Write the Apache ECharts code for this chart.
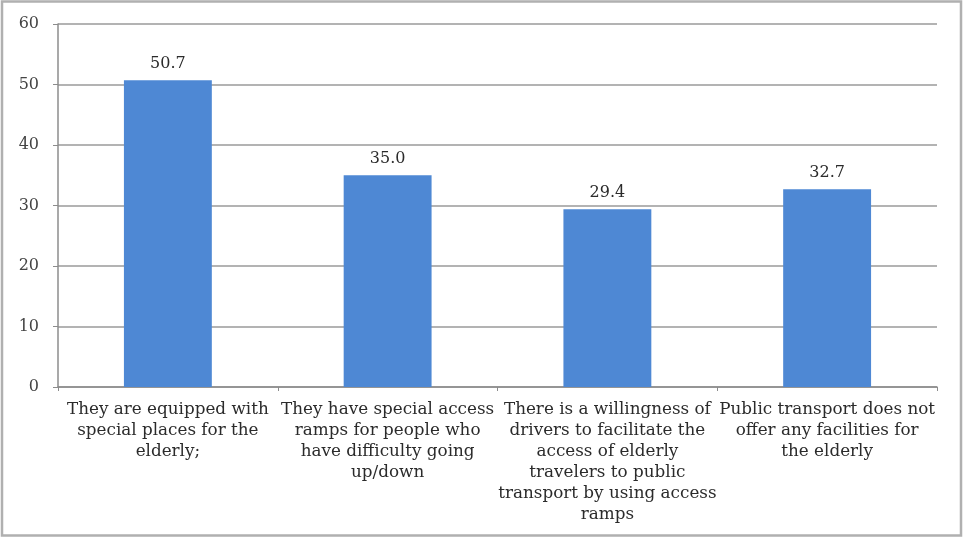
<!DOCTYPE html>
<html>
<head>
<meta charset="utf-8">
<script src="https://cdn.jsdelivr.net/npm/echarts@6/dist/echarts.min.js"></script>
<style>
html,body{margin:0;padding:0;background:#fff;}
#chart{width:963px;height:538px;}
</style>
</head>
<body>
<div id="chart"></div>
<script>
var categories = [
  "They are equipped with\nspecial places for the\nelderly;",
  "They have special access\nramps for people who\nhave difficulty going\nup/down",
  "There is a willingness of\ndrivers to facilitate the\naccess of elderly\ntravelers to public\ntransport by using access\nramps",
  "Public transport does not\noffer any facilities for\nthe elderly"
];
var values = [50.7, 35.0, 29.4, 32.7];
var yTicks = [0, 10, 20, 30, 40, 50, 60];

var chart = echarts.init(document.getElementById('chart'), null, {renderer: 'canvas'});
var font = '"DejaVu Serif", "Liberation Serif", serif';
chart.setOption({
  animation: false,
  backgroundColor: '#fff',
  graphic: [{
    type: 'rect',
    shape: {x: 2, y: 1.5, width: 959, height: 534},
    style: {fill: 'none', stroke: '#b0b0b0', lineWidth: 2.5},
    silent: true
  }],
  grid: {left: 58, right: 26, top: 24, bottom: 151, containLabel: false},
  xAxis: {
    type: 'category',
    data: categories,
    axisLine: {show: true, lineStyle: {color: '#8c8c8c', width: 1.5}},
    axisTick: {show: true, alignWithLabel: false, length: 4, lineStyle: {color: '#8c8c8c'}},
    axisLabel: {
      interval: 0,
      fontFamily: font,
      fontSize: 16.8,
      color: '#2b2b2b',
      lineHeight: 21,
      margin: 12,
      align: 'center'
    }
  },
  yAxis: {
    type: 'value',
    min: yTicks[0],
    max: yTicks[yTicks.length - 1],
    interval: 10,
    axisLine: {show: true, lineStyle: {color: '#8c8c8c', width: 1.5}},
    axisTick: {show: true, length: 5, lineStyle: {color: '#8c8c8c'}},
    splitLine: {show: true, lineStyle: {color: '#9a9a9a', width: 1.5}},
    axisLabel: {
      fontFamily: font,
      fontSize: 16,
      color: '#444',
      margin: 19
    }
  },
  series: [{
    type: 'bar',
    data: values,
    barWidth: '40%',
    itemStyle: {color: '#4e88d4'},
    label: {
      show: true,
      position: 'top',
      distance: 8,
      fontFamily: font,
      fontSize: 16,
      color: '#2b2b2b',
      formatter: function (p) { return p.value.toFixed(1); }
    }
  }]
});
</script>
</body>
</html>
